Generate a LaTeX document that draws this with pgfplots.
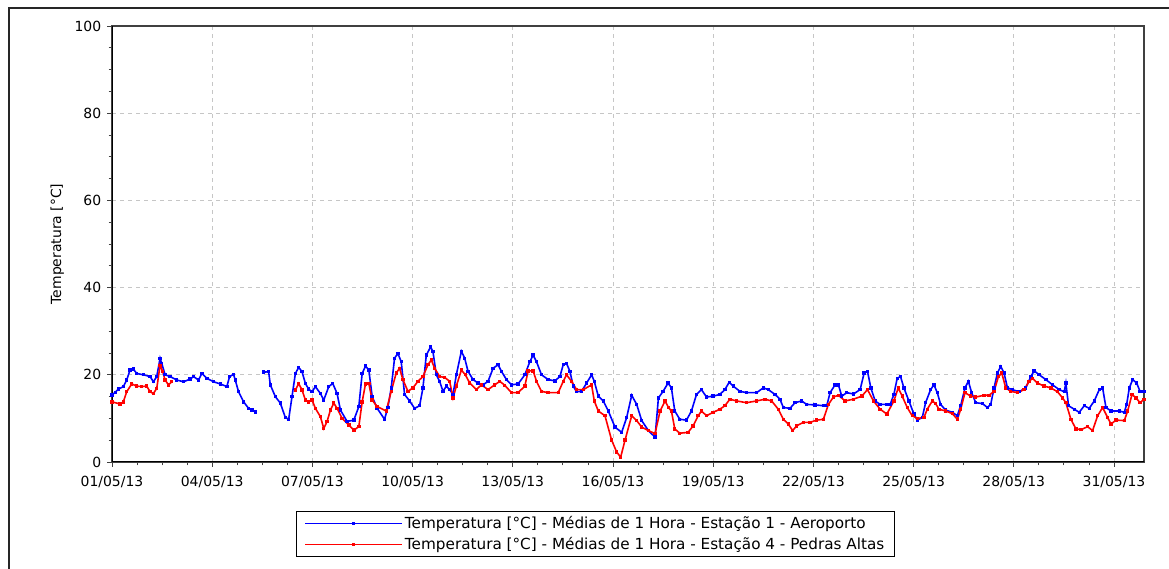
\documentclass[border=0pt]{standalone}
\usepackage{fontspec}
\setmainfont{DejaVu Sans}
\usepackage{pgfplots}
\pgfplotsset{compat=1.18}
\begin{document}
\fontsize{14}{16}\selectfont
\begin{tikzpicture}[x=1bp,y=1bp]
\useasboundingbox (0,0) rectangle (1169,569);
\draw[line width=1.5bp, black!85] (9,-5) -- (9,561) -- (1175,561);
\begin{axis}[
  at={(112bp,107bp)}, anchor=south west, scale only axis,
  width=1032bp, height=436bp,
  xmin=0, xmax=30.9, ymin=0, ymax=100,
  xtick={0,3,6,9,12,15,18,21,24,27,30},
  xticklabels={01/05/13,04/05/13,07/05/13,10/05/13,13/05/13,16/05/13,19/05/13,22/05/13,25/05/13,28/05/13,31/05/13},
  ytick={0,20,40,60,80,100},
  minor x tick num=3, minor y tick num=3,
  xtick pos=bottom, ytick pos=left,
  tick align=outside,
  major tick length=5bp, minor tick length=3.5bp,
  tick style={black!75, line width=0.8bp},
  grid=major,
  major grid style={gray!45, dash pattern=on 4bp off 4bp, line width=0.8bp},
  axis line style={draw=black!75, line width=1.2bp},
  /pgf/number format/assume math mode=true,
  every tick label/.append style={font=\fontsize{14}{16}\selectfont},
  xticklabel style={yshift=-4bp},
  yticklabel style={xshift=-1bp},
  ylabel={Temperatura [°C]},
  every axis y label/.style={at={(axis description cs:-0.053,0.5)}, rotate=90, anchor=center, font=\fontsize{14}{16}\selectfont},
  unbounded coords=jump,
  legend style={at={(0.4685,-0.112)}, anchor=north, draw=black, line width=1bp,
    font=\fontsize{15.3}{17}\selectfont, inner xsep=8bp, inner ysep=3bp, row sep=2.5bp},
  legend cell align=left,
  legend image code/.code={\draw[mark repeat=2,mark phase=2,#1,line width=1.3bp] plot coordinates {(0bp,0bp) (48.5bp,0bp) (97bp,0bp)};},
]
\addplot[blue, line width=1.6bp, mark=square*, mark size=0.9bp] coordinates {
(0,15.4) (0.10,16.0) (0.19,16.7) (0.34,17.3) (0.44,18.8) (0.54,21.1) (0.64,21.3) (0.74,20.3) (0.94,20.0) (1.14,19.6) (1.24,18.4) (1.34,19.6) (1.44,23.8) (1.49,22.6) (1.59,20.0) (1.74,19.6) (1.94,18.8) (2.14,18.4) (2.34,19.0) (2.44,19.6) (2.59,18.8) (2.69,20.3) (2.84,19.2) (3.04,18.4) (3.24,17.9) (3.44,17.3) (3.52,19.6) (3.64,20.1) (3.69,18.8) (3.79,16.1) (3.94,13.8) (4.09,12.3) (4.19,11.9) (4.29,11.5)
(4.4,nan)
(4.54,20.6) (4.69,20.7) (4.74,17.7) (4.89,15.0) (5.04,13.5) (5.19,10.2) (5.29,9.8) (5.39,15.0) (5.49,20.3) (5.59,21.7) (5.69,20.7) (5.79,18.0) (5.89,16.7) (5.99,16.1) (6.09,17.3) (6.24,15.7) (6.34,14.2) (6.49,17.3) (6.61,18.0) (6.74,15.7) (6.84,11.9) (7.04,9.3) (7.24,9.6) (7.39,12.7) (7.49,20.3) (7.59,22.0) (7.69,21.1) (7.79,15.0) (7.94,12.3)
(8.16,9.8) (8.26,12.5) (8.36,17.0) (8.46,23.8) (8.56,24.9) (8.66,23.0) (8.76,15.5) (8.91,14.0) (9.06,12.3) (9.21,12.9) (9.31,17.0) (9.41,24.5) (9.54,26.4) (9.61,25.3) (9.71,20.0) (9.81,18.5) (9.91,16.2) (10.01,17.4) (10.11,16.6) (10.21,15.5) (10.31,20.0) (10.46,25.4) (10.56,23.8) (10.66,20.8) (10.81,18.9) (10.96,18.1) (11.11,17.7) (11.26,18.5) (11.41,21.5) (11.56,22.3) (11.66,20.8) (11.81,18.9) (11.96,17.7) (12.16,17.9) (12.36,20.0) (12.51,23.0) (12.61,24.5) (12.71,23.0) (12.86,20.0) (13.06,18.9) (13.26,18.6) (13.41,19.6) (13.51,22.3) (13.61,22.6) (13.71,20.8) (13.81,17.4) (13.91,16.1) (14.06,16.2) (14.21,18.1) (14.36,20.0) (14.44,18.5) (14.56,15.1) (14.71,14.0) (14.86,11.7) (15.06,8.0) (15.26,6.8) (15.41,10.2) (15.56,15.3) (15.71,13.2) (15.86,9.5) (16.06,7.2) (16.26,5.7) (16.36,14.7)
(16.5,16.2) (16.65,18.1) (16.75,17.0) (16.85,11.7) (17.0,9.8) (17.2,9.6) (17.35,11.7) (17.5,15.5) (17.65,16.6) (17.8,14.9) (18.0,15.1) (18.2,15.5) (18.35,16.6) (18.48,18.3) (18.6,17.4) (18.8,16.2) (19.0,15.9) (19.3,15.9) (19.5,17.0) (19.65,16.6) (19.85,15.5) (20.0,14.4) (20.1,12.5) (20.3,12.3) (20.45,13.6) (20.65,14.0) (20.8,13.2) (21.05,13.1) (21.3,12.9) (21.4,12.9) (21.5,15.9) (21.65,17.7) (21.75,17.7) (21.85,15.1) (22.0,15.9) (22.2,15.6) (22.4,16.6) (22.52,20.4) (22.62,20.8) (22.72,17.0) (22.85,14.0) (23.0,13.2) (23.2,13.2)
(23.3,13.2) (23.41,15.5) (23.51,19.2) (23.61,19.6) (23.71,17.0) (23.86,14.0) (24.01,11.0) (24.11,9.6) (24.26,10.2) (24.36,13.6) (24.51,16.6) (24.61,17.7) (24.71,15.9) (24.81,13.2) (24.96,11.9) (25.16,11.4) (25.31,10.6) (25.41,12.9) (25.54,17.0) (25.64,18.5) (25.74,15.9) (25.86,13.6) (26.06,13.4) (26.21,12.5) (26.31,13.2) (26.41,17.0) (26.51,20.4) (26.61,21.9) (26.71,20.4) (26.81,17.0) (26.96,16.6) (27.16,16.1) (27.36,17.0) (27.51,19.6) (27.61,20.9) (27.76,20.0) (27.96,18.9) (28.16,17.7) (28.36,16.6) (28.51,16.1) (28.56,18.1) (28.64,12.9) (28.81,12.1) (28.96,11.4) (29.11,12.9) (29.26,12.3) (29.41,14.0) (29.56,16.6) (29.66,17.0) (29.76,12.5) (29.91,11.7) (30.16,11.7) (30.31,11.4) (30.38,13.2) (30.46,17.0) (30.56,18.9) (30.68,18.1) (30.78,16.2) (30.9,16.2)
};
\addlegendentry{Temperatura [°C] - Médias de 1 Hora - Estação 1 - Aeroporto}
\addplot[red, line width=1.6bp, mark=square*, mark size=0.9bp] coordinates {
(0,13.8) (0.24,13.3) (0.34,13.8) (0.44,16.1) (0.59,17.9) (0.74,17.4) (0.89,17.3) (1.04,17.4) (1.14,16.1) (1.24,15.7) (1.34,16.9) (1.44,22.2) (1.52,20.7) (1.59,18.8) (1.69,17.7) (1.79,18.4)
(3,nan)
(5.49,16.5) (5.59,18.0) (5.69,16.5) (5.79,14.2) (5.89,13.8) (5.99,14.2) (6.09,12.3) (6.24,10.4) (6.34,7.7) (6.44,9.3) (6.54,11.9) (6.64,13.5) (6.74,12.3) (6.89,10.0) (7.09,8.5) (7.24,7.3) (7.39,8.1) (7.49,13.8) (7.59,17.9) (7.69,18.0) (7.79,14.2) (7.94,12.7)
(8.21,11.7) (8.36,16.2) (8.51,20.4) (8.61,21.5) (8.71,18.9) (8.86,16.2) (9.01,17.0) (9.16,18.5) (9.31,19.6) (9.46,22.3) (9.56,23.4) (9.66,21.5) (9.81,19.6) (9.96,19.4) (10.11,18.5) (10.21,14.7) (10.31,17.4) (10.46,21.1) (10.58,20.0) (10.71,18.1) (10.91,16.6) (11.06,17.7) (11.26,16.6) (11.46,17.7) (11.61,18.5) (11.76,17.6) (11.96,15.9) (12.16,15.9) (12.36,17.4) (12.46,20.9) (12.61,20.9) (12.71,18.5) (12.86,16.2) (13.06,15.9) (13.36,15.9) (13.51,18.5) (13.61,20.0) (13.76,18.5) (13.91,16.6) (14.11,16.6) (14.36,17.7) (14.44,14.0) (14.56,11.7) (14.76,10.6) (14.96,5.0) (15.11,2.3) (15.23,1.1) (15.36,5.0) (15.56,10.6) (15.71,9.5) (15.86,8.0) (16.06,7.2) (16.26,6.5) (16.41,11.7) (16.56,14.0) (16.66,12.5)
(16.75,11.7) (16.85,7.6) (17.0,6.6) (17.25,6.8) (17.4,8.3) (17.55,10.6) (17.65,11.7) (17.8,10.6) (18.0,11.4) (18.2,12.1) (18.35,12.9) (18.5,14.4) (18.7,14.0) (19.0,13.6) (19.3,14.0) (19.55,14.4) (19.75,14.0) (19.95,12.1) (20.1,9.8) (20.25,8.7) (20.38,7.2) (20.5,8.3) (20.7,9.1) (20.9,9.1) (21.1,9.6) (21.3,9.8) (21.45,13.2) (21.6,14.9) (21.75,15.3) (21.95,14.0) (22.2,14.4) (22.45,15.1) (22.62,16.6) (22.8,14.0) (23.0,12.1) (23.2,11.0)
(23.41,14.0) (23.54,17.0) (23.66,15.1) (23.81,12.5) (23.96,10.6) (24.11,10.0) (24.31,10.2) (24.41,12.1) (24.56,14.0) (24.66,13.4) (24.76,12.1) (24.96,11.7) (25.16,11.1) (25.31,9.8) (25.41,12.1) (25.54,15.9) (25.71,15.1) (25.86,14.9) (26.11,15.3) (26.26,15.3) (26.41,16.2) (26.54,19.6) (26.64,20.4) (26.76,17.0) (26.91,16.2) (27.11,15.9) (27.31,16.6) (27.46,18.5) (27.56,19.2) (27.71,18.1) (27.91,17.4) (28.11,17.0) (28.31,16.1) (28.46,14.7) (28.56,13.6) (28.71,9.8) (28.86,7.6) (29.01,7.4) (29.21,8.1) (29.36,7.2) (29.51,10.6) (29.66,12.5) (29.81,10.2) (29.91,8.7) (30.06,9.6) (30.31,9.5) (30.41,11.7) (30.54,15.5) (30.66,14.7) (30.78,13.6) (30.9,14.4)
};
\addlegendentry{Temperatura [°C] - Médias de 1 Hora - Estação 4 - Pedras Altas}
\draw[black, line width=2.2bp] (rel axis cs:0,0) -- (rel axis cs:0,1);
\draw[black, line width=1bp] (rel axis cs:0,0) -- (rel axis cs:1,0);
\draw[black, line width=2.4bp, dash pattern=on 4bp off 2bp] (rel axis cs:0,0) -- (rel axis cs:1,0);
\end{axis}
\end{tikzpicture}
\end{document}
